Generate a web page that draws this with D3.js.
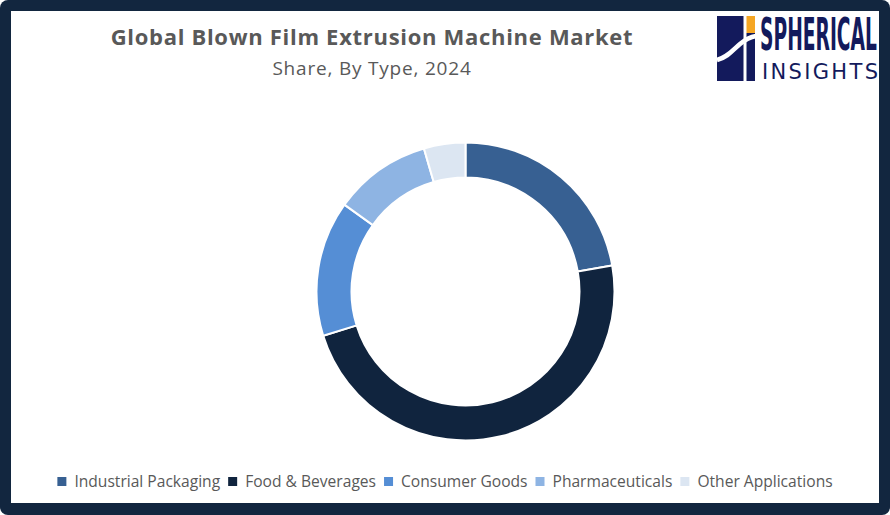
<!DOCTYPE html>
<html><head><meta charset="utf-8">
<script src="https://cdn.jsdelivr.net/npm/d3@7/dist/d3.min.js"></script>
<style>html,body{margin:0;padding:0;background:#fff;}svg{display:block;}</style>
</head><body>
<svg id="chart" width="890" height="515"></svg>
<script>
const categories = ["Industrial Packaging", "Food & Beverages", "Consumer Goods", "Pharmaceuticals", "Other Applications"];
const shares = [22.2, 48.0, 14.7, 10.6, 4.5];
const colors = ["#376092", "#10243e", "#558ed5", "#8eb4e3", "#dce6f2"];
const title = "Global Blown Film Extrusion Machine Market";
const subtitle = "Share, By Type, 2024";

const W = 890, H = 515;
const svg = d3.select("#chart");
const font = "'Open Sans', Lato, sans-serif";
const textColor = "#595959";

// frame
svg.append("rect").attr("x", 0).attr("y", 0).attr("width", W).attr("height", H).attr("rx", 8).attr("fill", "#12263f");
svg.append("rect").attr("x", 11).attr("y", 11).attr("width", 868).attr("height", 492).attr("fill", "#ffffff");

// title
svg.append("text").attr("x", 372).attr("y", 44.5).attr("text-anchor", "middle")
  .attr("font-family", font).attr("font-weight", 700).attr("font-size", 22)
  .attr("letter-spacing", 0.7)
  .attr("fill", textColor).text(title);
svg.append("text").attr("x", 372).attr("y", 75).attr("text-anchor", "middle")
  .attr("font-family", font).attr("font-size", 19)
  .attr("letter-spacing", 0.8)
  .attr("fill", textColor).text(subtitle);

// donut
const cx = 465.5, cy = 291.5, rOuter = 149, rInner = 114;
const pie = d3.pie().sort(null).value(d => d)(shares);
const arc = d3.arc().innerRadius(rInner).outerRadius(rOuter);
svg.append("g").attr("transform", `translate(${cx},${cy})`)
  .selectAll("path").data(pie).join("path")
  .attr("d", arc).attr("fill", (d, i) => colors[i])
  .attr("stroke", "#ffffff").attr("stroke-width", 2).attr("stroke-linejoin", "miter");

// legend
const lg = svg.append("g");
const items = lg.selectAll("g").data(categories).join("g");
items.append("rect").attr("width", 9).attr("height", 9).attr("y", -9.5)
  .attr("fill", (d, i) => colors[i]);
items.append("text").attr("x", 17).attr("y", 0)
  .attr("font-family", font).attr("font-size", 15.6).attr("fill", textColor).text(d => d);
let x = 0;
items.each(function () {
  const g = d3.select(this);
  g.attr("transform", `translate(${x},0)`);
  const w = g.select("text").node().getComputedTextLength();
  x += 17 + w + 8;
});
const totalW = x - 8;
lg.attr("transform", `translate(${445 - totalW / 2},486.5)`);

// logo
const logo = svg.append("g");
const navy = "#131a5c";
logo.append("rect").attr("x", 717).attr("y", 16).attr("width", 26.5).attr("height", 65).attr("fill", navy);
logo.append("rect").attr("x", 746.5).attr("y", 33).attr("width", 8.5).attr("height", 48).attr("fill", navy);
logo.append("rect").attr("x", 746.5).attr("y", 16).attr("width", 8.5).attr("height", 17).attr("fill", "#f5a623");
logo.append("path").attr("d", "M717,60 C728,57 733,50 740,44 C746,39 750,37 756,36")
  .attr("fill", "none").attr("stroke", "#ffffff").attr("stroke-width", 4.5);
const t1 = logo.append("text").attr("x", 0).attr("y", 0)
  .attr("font-family", "'DejaVu Sans', sans-serif").attr("font-weight", 700).attr("font-size", 45)
  .attr("fill", navy).text("SPHERICAL");
const l1 = t1.node().getComputedTextLength();
t1.attr("transform", `translate(760,50) scale(${117 / l1},1)`);
const t2 = logo.append("text").attr("x", 0).attr("y", 0)
  .attr("font-family", "'DejaVu Sans', sans-serif").attr("font-size", 21)
  .attr("letter-spacing", 0).attr("fill", navy).text("INSIGHTS");
const l2 = t2.node().getComputedTextLength();
const n2 = "INSIGHTS".length;
t2.attr("letter-spacing", Math.max(0, (116 - l2) / (n2 - 1)))
  .attr("transform", "translate(762,79)");
</script>
</body></html>
